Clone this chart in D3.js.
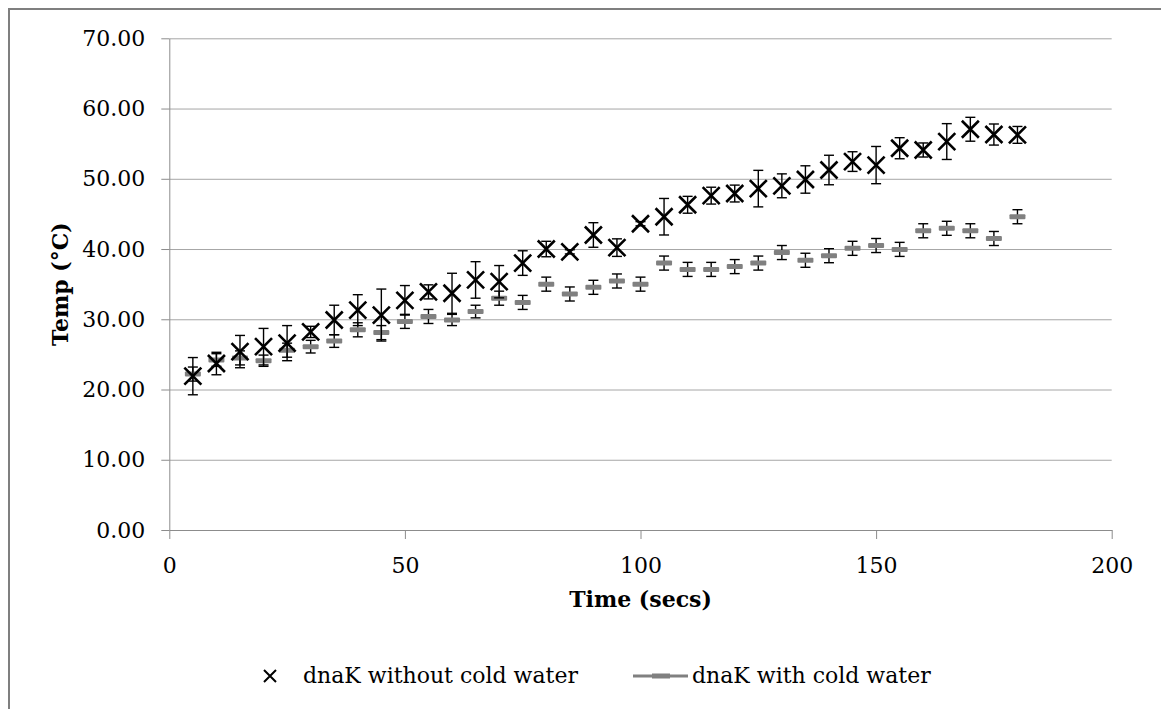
<!DOCTYPE html>
<head>
    <meta charset="utf-8">
    <script type="text/javascript" src="https://d3js.org/d3.v7.min.js"></script>
    <style>
        body { margin: 0; background: #fff; }
        .chart text { font-family: "DejaVu Serif", serif; fill: #000; }
        .axis path, .axis line { stroke: #8c8c8c; }
        .grid line { stroke: #a6a6a6; }
        .grid path { display: none; }
    </style>
</head>
<body>
<svg class="chart" width="1161" height="709"></svg>

<script>

    // time points (secs)
    var times = [5, 10, 15, 20, 25, 30, 35, 40, 45, 50, 55, 60, 65, 70, 75, 80, 85, 90,
                 95, 100, 105, 110, 115, 120, 125, 130, 135, 140, 145, 150, 155, 160, 165, 170, 175, 180];

    // dnaK without cold water
    var noCold = [21.9, 23.7, 25.4, 26.1, 26.6, 28.2, 29.9, 31.3, 30.6, 32.7, 33.9, 33.7, 35.6, 35.35, 38.0, 40.0, 39.6, 42.0,
                  40.2, 43.6, 44.6, 46.3, 47.6, 47.9, 48.6, 49.0, 49.9, 51.25, 52.45, 51.95, 54.35, 54.1, 55.3, 57.05, 56.3, 56.25];
    var noColdErr = [2.65, 1.6, 2.3, 2.6, 2.5, 0.8, 2.1, 2.2, 3.7, 2.1, 1.0, 2.85, 2.6, 2.3, 1.75, 1.1, 0.3, 1.75,
                     1.25, 0.3, 2.6, 1.2, 1.2, 1.2, 2.6, 1.7, 1.95, 2.1, 1.4, 2.65, 1.5, 1.0, 2.55, 1.7, 1.5, 1.2];

    // dnaK with cold water
    var withCold = [22.2, 24.2, 24.5, 24.1, 25.6, 26.1, 26.9, 28.5, 28.1, 29.7, 30.4, 29.9, 31.1, 33.0, 32.4, 35.0, 33.6, 34.55,
                    35.45, 35.0, 38.0, 37.1, 37.1, 37.5, 38.0, 39.5, 38.4, 39.05, 40.1, 40.5, 39.95, 42.6, 42.95, 42.6, 41.5, 44.6];
    var withColdErr = [1.0, 0.9, 1.0, 0.8, 1.0, 0.9, 0.9, 1.0, 1.0, 1.0, 1.0, 0.8, 0.9, 1.0, 1.0, 1.0, 1.0, 1.0,
                       1.0, 1.0, 1.0, 1.0, 1.0, 1.0, 1.0, 1.0, 1.0, 1.0, 1.0, 1.0, 1.0, 1.0, 1.0, 1.0, 1.0, 1.0];

    var xTicks = [0, 50, 100, 150, 200],
        yTicks = [0, 10, 20, 30, 40, 50, 60, 70];

    var plotLeft = 169.3, plotRight = 1111.7, plotTop = 38.3, plotBottom = 530;

    var x = d3.scaleLinear().domain([0, 200]).range([plotLeft, plotRight]);
    var y = d3.scaleLinear().domain([0, 70]).range([plotBottom, plotTop]);

    var chart = d3.select(".chart");

    // outer frame (cut off at right / bottom)
    chart.append("rect")
        .attr("x", 9).attr("y", 9)
        .attr("width", 1300).attr("height", 900)
        .attr("fill", "none")
        .attr("stroke", "#7f7f7f")
        .attr("stroke-width", 2);

    // horizontal gridlines
    chart.append("g")
        .attr("class", "grid")
        .attr("transform", "translate(" + plotLeft + ",0)")
        .call(d3.axisLeft(y).tickValues(yTicks.slice(1)).tickSize(-(plotRight - plotLeft)).tickFormat(""));

    // y axis
    var yAxis = chart.append("g")
        .attr("class", "axis")
        .attr("transform", "translate(" + plotLeft + ",0)")
        .call(d3.axisLeft(y).tickValues(yTicks).tickSize(8).tickSizeOuter(0).tickPadding(16).tickFormat(d3.format(".2f")));
    yAxis.selectAll("text").style("font-size", "22px").attr("fill", "#000");

    // x axis
    var xAxis = chart.append("g")
        .attr("class", "axis")
        .attr("transform", "translate(0," + plotBottom + ")")
        .call(d3.axisBottom(x).tickValues(xTicks).tickSize(9).tickSizeOuter(0));
    xAxis.selectAll("text").style("font-size", "22px").attr("fill", "#000")
        .attr("y", 43).attr("dy", null);

    // axis titles
    chart.append("text")
        .attr("x", (plotLeft + plotRight) / 2).attr("y", 607)
        .attr("text-anchor", "middle")
        .style("font-size", "22px").style("font-weight", "bold")
        .text("Time (secs)");

    chart.append("text")
        .attr("transform", "translate(68," + ((plotTop + plotBottom) / 2) + ") rotate(-90)")
        .attr("text-anchor", "middle")
        .style("font-size", "22px").style("font-weight", "bold")
        .text("Temp (°C)");

    function errBars(vals, errs) {
        var g = chart.append("g").attr("stroke", "#000").attr("stroke-width", 1.4);
        var pts = times.map(function(t, i) { return {t: t, v: vals[i], e: errs[i]}; });
        g.selectAll(".v").data(pts).enter().append("line")
            .attr("x1", function(d) { return x(d.t); }).attr("x2", function(d) { return x(d.t); })
            .attr("y1", function(d) { return y(d.v + d.e); }).attr("y2", function(d) { return y(d.v - d.e); });
        [1, -1].forEach(function(s) {
            g.selectAll(".c" + s).data(pts).enter().append("line")
                .attr("x1", function(d) { return x(d.t) - 5; }).attr("x2", function(d) { return x(d.t) + 5; })
                .attr("y1", function(d) { return y(d.v + s * d.e); }).attr("y2", function(d) { return y(d.v + s * d.e); });
        });
    }

    // with cold water: grey dashes
    errBars(withCold, withColdErr);
    chart.append("g").selectAll("rect")
        .data(times)
        .enter().append("rect")
        .attr("x", function(d) { return x(d) - 8; })
        .attr("y", function(d, i) { return y(withCold[i]) - 2.5; })
        .attr("width", 16).attr("height", 5).attr("rx", 1)
        .attr("fill", "#808080");

    // without cold water: black crosses
    errBars(noCold, noColdErr);
    var s = 8.5;
    chart.append("g").selectAll("path")
        .data(times)
        .enter().append("path")
        .attr("d", function(d, i) {
            var cx = x(d), cy = y(noCold[i]);
            return "M" + (cx - s) + "," + (cy - s) + "L" + (cx + s) + "," + (cy + s) +
                   "M" + (cx - s) + "," + (cy + s) + "L" + (cx + s) + "," + (cy - s);
        })
        .attr("stroke", "#000").attr("stroke-width", 2.6).attr("fill", "none");

    // legend
    var ly = 676;
    chart.append("path")
        .attr("d", "M264,670L276,682M264,682L276,670")
        .attr("stroke", "#000").attr("stroke-width", 2);
    chart.append("text").attr("x", 303).attr("y", 683).style("font-size", "22px")
        .text("dnaK without cold water");
    chart.append("line")
        .attr("x1", 633).attr("x2", 688).attr("y1", ly).attr("y2", ly)
        .attr("stroke", "#808080").attr("stroke-width", 3);
    chart.append("rect")
        .attr("x", 652).attr("y", ly - 2.5).attr("width", 18).attr("height", 5)
        .attr("fill", "#808080");
    chart.append("text").attr("x", 692).attr("y", 683).style("font-size", "22px")
        .text("dnaK with cold water");

</script>
</body>
